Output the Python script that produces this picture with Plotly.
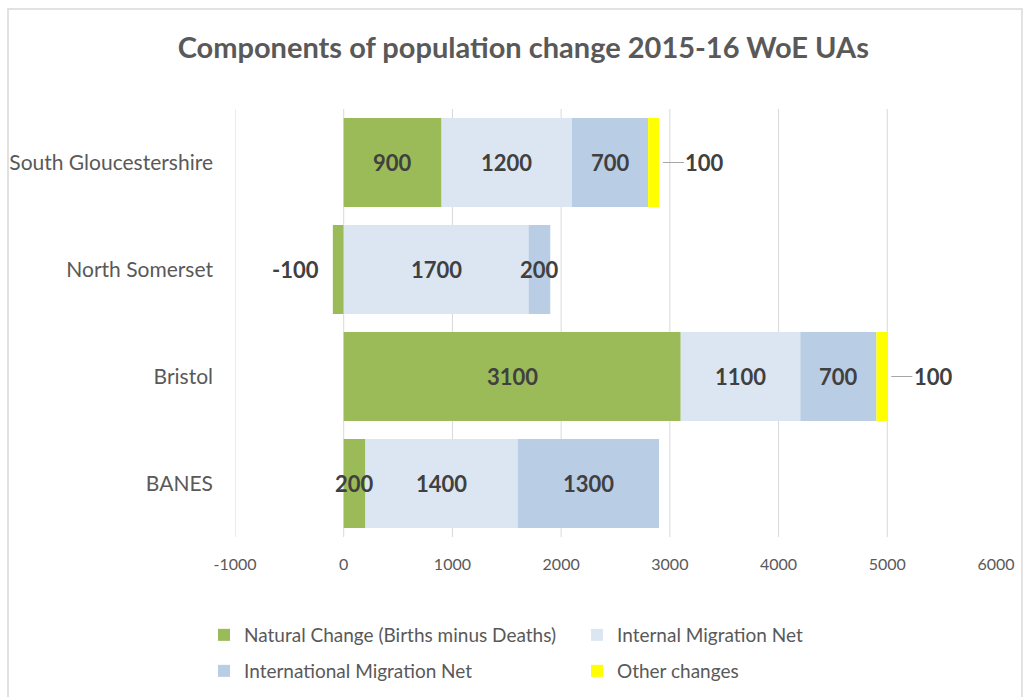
import plotly.graph_objects as go

categories = ["BANES", "Bristol", "North Somerset", "South Gloucestershire"]
natural = [200, 3100, -100, 900]
internal = [1400, 1100, 1700, 1200]
international = [1300, 700, 200, 700]
other = [0, 100, 0, 100]
series_names = ["Natural Change (Births minus Deaths)", "Internal Migration Net",
                "International Migration Net", "Other changes"]
x_ticks = [-1000, 0, 1000, 2000, 3000, 4000, 5000, 6000]
x_tick_labels = [str(t) for t in x_ticks]

colors = ["#9BBB59", "#DCE6F2", "#B9CDE5", "#FFFF00"]
series = [natural, internal, international, other]
legend_ids = ["legend", "legend", "legend2", "legend2"]

FONT = "Lato"
fig = go.Figure()
for name, vals, col, lg in zip(series_names, series, colors, legend_ids):
    fig.add_trace(go.Bar(
        y=categories, x=vals, name=name, orientation="h",
        marker=dict(color=col, line=dict(width=0)),
        legend=lg, hoverinfo="x+name",
    ))

# Data labels derived from stacking
annotations = []
pos_cum = [0] * len(categories)
neg_cum = [0] * len(categories)
for si, vals in enumerate(series):
    for ci, v in enumerate(vals):
        if v == 0:
            continue
        if v > 0:
            start = pos_cum[ci]
            end = start + v
            pos_cum[ci] = end
        else:
            start = neg_cum[ci]
            end = start + v
            neg_cum[ci] = end
        label = f"{v}"
        fnt = dict(family=FONT, size=22, color="#404040", weight=700)
        if si == 3:
            annotations.append(dict(
                x=end, y=categories[ci], xref="x", yref="y", text=label,
                showarrow=True, arrowhead=0, arrowwidth=1, arrowcolor="#A6A6A6",
                ax=46, ay=0, standoff=4, font=fnt, xanchor="center"))
        elif v < 0:
            annotations.append(dict(
                x=end, y=categories[ci], xref="x", yref="y", text=label,
                showarrow=False, xanchor="right", xshift=-12, font=fnt))
        else:
            annotations.append(dict(
                x=(start + end) / 2, y=categories[ci], xref="x", yref="y",
                text=label, showarrow=False, xanchor="center", font=fnt))

shapes = []
for t in x_ticks[:-1]:
    shapes.append(dict(type="line", xref="x", yref="paper", x0=t, x1=t, y0=0, y1=1,
                       line=dict(color="#D9D9D9", width=1), layer="below"))
# chart border
shapes.append(dict(type="rect", xref="paper", yref="paper",
                   x0=(8 - 235) / 761, x1=(1022 - 235) / 761,
                   y0=(537 - 700) / 428, y1=(537 - 9) / 428,
                   line=dict(color="#D9D9D9", width=1.5), fillcolor="rgba(0,0,0,0)"))

leg_font = dict(family=FONT, size=19, color="#595959")
fig.update_layout(
    template="none",
    width=1026, height=697,
    margin=dict(l=235, r=30, t=109, b=160, autoexpand=False),
    paper_bgcolor="white", plot_bgcolor="white",
    barmode="relative", bargap=0.17,
    font=dict(family=FONT, color="#595959"),
    title=dict(text="Components of population change 2015-16 WoE UAs",
               x=0.51, xref="container", xanchor="center",
               y=1 - 48 / 697, yref="container", yanchor="middle",
               font=dict(family=FONT, size=29, color="#595959", weight=700)),
    xaxis=dict(range=[-1000, 6000], tickvals=x_ticks, ticktext=x_tick_labels,
               showgrid=False, zeroline=False, showline=False, ticks="",
               automargin=False,
               tickfont=dict(family=FONT, size=16, color="#595959"),
               ticklabelstandoff=16),
    yaxis=dict(categoryorder="array", categoryarray=categories,
               showgrid=False, zeroline=False, showline=False, ticks="",
               automargin=False,
               tickfont=dict(family=FONT, size=21, color="#595959"),
               ticklabelstandoff=21),
    legend=dict(orientation="h", x=(204 - 235) / 761, xanchor="left",
                y=(537 - 635) / 428, yanchor="middle",
                entrywidth=328, entrywidthmode="pixels",
                font=leg_font, bgcolor="rgba(0,0,0,0)", traceorder="normal"),
    legend2=dict(orientation="h", x=(204 - 235) / 761, xanchor="left",
                 y=(537 - 671) / 428, yanchor="middle",
                 entrywidth=328, entrywidthmode="pixels",
                 font=leg_font, bgcolor="rgba(0,0,0,0)", traceorder="normal"),
    annotations=annotations,
    shapes=shapes,
    showlegend=True,
)

fig.write_html("out.html", config={"displayModeBar": False},
               post_script="document.body.style.margin='0px';")
